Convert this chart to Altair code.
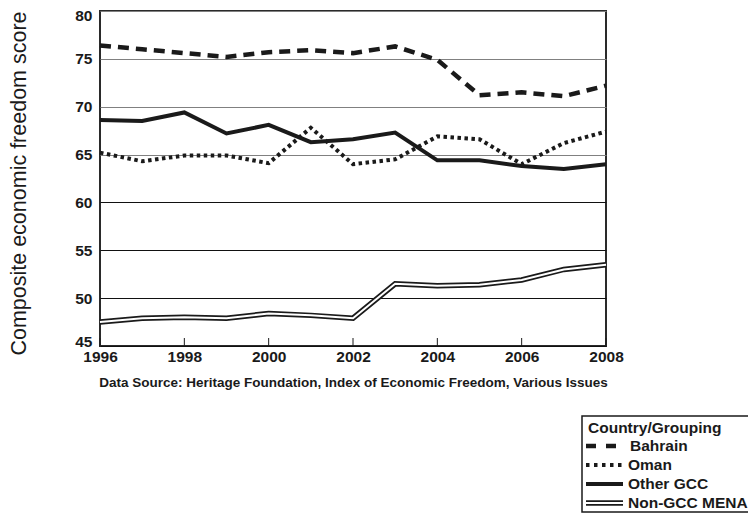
import altair as alt
import pandas as pd

years = list(range(1996, 2009))
bahrain = [76.4, 76.0, 75.6, 75.2, 75.7, 75.9, 75.6, 76.3, 74.9, 71.2, 71.5, 71.1, 72.2]
oman = [65.2, 64.3, 64.9, 64.9, 64.1, 67.8, 64.0, 64.5, 66.9, 66.6, 64.0, 66.2, 67.4]
other_gcc = [68.6, 68.5, 69.4, 67.2, 68.1, 66.3, 66.6, 67.3, 64.4, 64.4, 63.8, 63.5, 64.0]
non_gcc_mena = [47.5, 47.9, 48.0, 47.9, 48.4, 48.2, 47.9, 51.5, 51.3, 51.4, 51.9, 53.0, 53.5]
series_names = ["Bahrain", "Oman", "Other GCC", "Non-GCC MENA"]
y_ticks = [45, 50, 55, 60, 65, 70, 75, 80]
x_ticks = [1996, 1998, 2000, 2002, 2004, 2006, 2008]

rows = []
for name, vals in zip(series_names, [bahrain, oman, other_gcc, non_gcc_mena]):
    for yr, v in zip(years, vals):
        rows.append({"Year": yr, "Score": v, "Series": name})
df = pd.DataFrame(rows)
ticks_df = pd.DataFrame({"Year": x_ticks})

FONT = "Liberation Sans"
W, H = 506, 335

xscale = alt.Scale(domain=[1996, 2008], nice=False, zero=False)
yscale = alt.Scale(domain=[45, 80], nice=False, zero=False)

x_enc = alt.X("Year:Q", scale=xscale, axis=alt.Axis(
    values=x_ticks, format="d", ticks=False, domain=False, grid=False,
    labelFlush=False, labelOverlap=False, labelFontSize=15.5, labelFontWeight="bold",
    labelColor="#1a1a1a", labelPadding=3,
    title="Data Source: Heritage Foundation, Index of Economic Freedom, Various Issues",
    titleFontSize=13.5, titleFontWeight="bold", titleColor="#1a1a1a",
    titleY=36, titleBaseline="middle"))
y_enc = alt.Y("Score:Q", scale=yscale, axis=alt.Axis(
    values=y_ticks, ticks=False, domain=False, grid=True,
    gridColor={"condition": {"test": "datum.value >= 65", "value": "#808080"}, "value": "#111111"},
    gridWidth=1, labelFontSize=15.5, labelFontWeight="bold", labelColor="#1a1a1a",
    labelPadding=8, labelFlush=True, labelFlushOffset=3,
    title="Composite economic freedom score", titleFontSize=21.5, titleFontWeight="normal",
    titleColor="#1a1a1a", titleX=-75, titleY=172, titleAngle=270,
    titleBaseline="alphabetic", titleAlign="center"))

base = alt.Chart(df).encode(x=x_enc, y=y_enc)

bah = base.transform_filter(alt.datum.Series == "Bahrain").mark_line(
    color="#1a1a1a", strokeWidth=4.5, strokeDash=[11, 7], strokeCap="butt")
om = base.transform_filter(alt.datum.Series == "Oman").mark_line(
    color="#1a1a1a", strokeWidth=4, strokeDash=[3.5, 3.5], strokeCap="butt")
oth = base.transform_filter(alt.datum.Series == "Other GCC").mark_line(
    color="#1a1a1a", strokeWidth=4)
mena_outer = base.transform_filter(alt.datum.Series == "Non-GCC MENA").mark_line(
    color="#1a1a1a", strokeWidth=5.5)
mena_inner = base.transform_filter(alt.datum.Series == "Non-GCC MENA").mark_line(
    color="white", strokeWidth=2)

tick_rules = alt.Chart(ticks_df).mark_rule(color="#1a1a1a", strokeWidth=1).encode(
    x=alt.X("Year:Q", scale=xscale), y=alt.value(H), y2=alt.value(H - 8))

one = pd.DataFrame({"a": [0]})
# Legend (box, samples, labels) placed outside the plot, bottom right
lx0, ly0 = 482, 405
legend_box = alt.Chart(one).mark_rect(fill="white", stroke="#1a1a1a", strokeWidth=1.5).encode(
    x=alt.value(lx0), x2=alt.value(lx0 + 200), y=alt.value(ly0), y2=alt.value(ly0 + 96))
rows_y = [435, 454, 473, 492]
sx0, sx1 = 486, 523
LFS = 15.5
leg_layers = [legend_box]
leg_layers.append(alt.Chart(one).mark_text(
    text="Country/Grouping", font=FONT, fontSize=LFS, fontWeight="bold", color="#1a1a1a",
    align="left", baseline="middle").encode(x=alt.value(488), y=alt.value(417)))
leg_layers.append(alt.Chart(one).mark_rule(color="#1a1a1a", strokeWidth=4.5, strokeDash=[10, 10], strokeCap="butt").encode(
    x=alt.value(sx0), x2=alt.value(sx0 + 30), y=alt.value(rows_y[0])))
leg_layers.append(alt.Chart(one).mark_rule(color="#1a1a1a", strokeWidth=4, strokeDash=[3.5, 4.5], strokeCap="butt").encode(
    x=alt.value(sx0), x2=alt.value(sx1 + 2), y=alt.value(rows_y[1])))
leg_layers.append(alt.Chart(one).mark_rule(color="#1a1a1a", strokeWidth=4, strokeCap="butt").encode(
    x=alt.value(sx0), x2=alt.value(sx1), y=alt.value(rows_y[2])))
leg_layers.append(alt.Chart(one).mark_rule(color="#1a1a1a", strokeWidth=5.5, strokeCap="butt").encode(
    x=alt.value(sx0), x2=alt.value(sx1), y=alt.value(rows_y[3])))
leg_layers.append(alt.Chart(one).mark_rule(color="white", strokeWidth=2, strokeCap="butt").encode(
    x=alt.value(sx0 - 1), x2=alt.value(sx1 + 1), y=alt.value(rows_y[3])))
for name, yy, xx in zip(series_names, rows_y, [530, 528, 528, 528]):
    leg_layers.append(alt.Chart(one).mark_text(
        text=name, font=FONT, fontSize=LFS, fontWeight="bold", color="#1a1a1a",
        align="left", baseline="middle").encode(x=alt.value(xx), y=alt.value(yy)))

chart = alt.layer(
    bah, om, oth, mena_outer, mena_inner, tick_rules, *leg_layers
).properties(
    width=W, height=H,
    autosize=alt.AutoSizeParams(type="none"),
    padding={"left": 92, "top": 3, "right": 142, "bottom": 167},
).configure(
    font=FONT, background="white"
).configure_view(
    stroke="#2a2a2a", strokeWidth=2
)

chart.save("out.html", embed_options={"renderer": "svg", "actions": False})
